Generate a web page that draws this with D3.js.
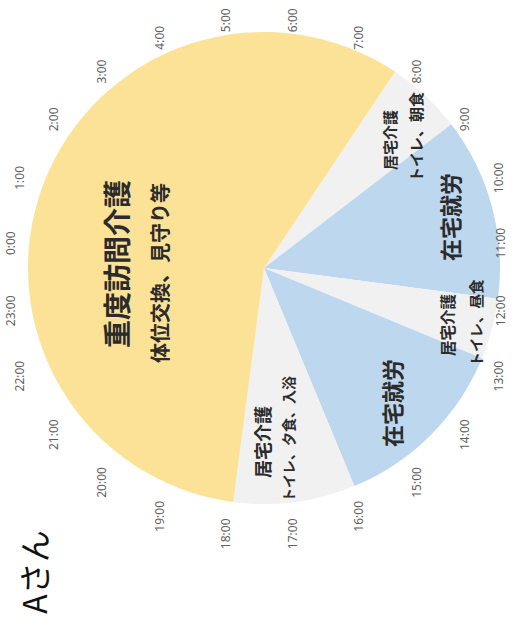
<!DOCTYPE html>
<html>
<head>
<meta charset="utf-8">
<script src="https://cdn.jsdelivr.net/npm/d3@7"></script>
<style>
  body { margin: 0; background: #fff; }
  svg { display: block; }
</style>
</head>
<body>
<svg id="chart" width="526" height="626"></svg>
<script>
// one day of care, slices in clock order starting at 7:45
const segNames = ["居宅介護", "在宅就労", "居宅介護", "在宅就労", "居宅介護", "重度訪問介護"];
const segNotes = ["トイレ、朝食", "", "トイレ、昼食", "", "トイレ、夕食、入浴", "体位交換、見守り等"];
const segHours = [1.25, 3, 1, 3, 2, 13.75];
const dayStart = 7.75;
const hourTicks = d3.range(24).map(h => h + ":00");
const title = "Aさん";

const colors = { "居宅介護": "#f1f1f1", "在宅就労": "#bdd7ee", "重度訪問介護": "#fbe296" };

// label spots inside the (upright) pie, same order as the slices
const labelLayout = [
  { name: [128, 125, 15], note: [131, 151, 15] },
  { name: [51, 185, 22] },
  { name: [-57, 183, 15.5], note: [-55, 211, 14.5] },
  { name: [-135, 127, 22] },
  { name: [-174, -2, 18], note: [-171, 24, 14] },
  { name: [4, -148, 28], note: [-5, -105, 20] }
];

const cx = 264, cy = 268, R = 236;
const tilt = 7.5 * Math.PI / 180;          // 0:00 sits a little past the top
const toAngle = h => tilt + h / 24 * 2 * Math.PI;

const svg = d3.select("#chart");
// the sheet is drawn upright then turned a quarter to the left
const g = svg.append("g").attr("transform", `translate(${cx},${cy}) rotate(-90)`);

const pie = d3.pie().sort(null).value(d => d)
  .startAngle(toAngle(dayStart))
  .endAngle(toAngle(dayStart) + 2 * Math.PI);
const arc = d3.arc().innerRadius(0).outerRadius(R);

g.selectAll("path.slice")
  .data(pie(segHours))
  .enter().append("path")
  .attr("class", "slice")
  .attr("d", arc)
  .attr("fill", (d, i) => colors[segNames[i]]);

// hour labels around the clock
const ring = { x: -9, y: -5, r: 259 };
g.selectAll("text.hour")
  .data(hourTicks)
  .enter().append("text")
  .attr("class", "hour")
  .attr("x", (d, i) => ring.x + ring.r * Math.sin(toAngle(i)))
  .attr("y", (d, i) => {
    let y = ring.y - ring.r * Math.cos(toAngle(i));
    return Math.max(-254, Math.min(236, y));   // kept inside the sheet
  })
  .attr("text-anchor", "middle")
  .attr("dominant-baseline", "central")
  .attr("font-family", "'Noto Sans', 'Noto Sans CJK JP', sans-serif")
  .attr("font-size", 12)
  .attr("fill", "#5f5f5f")
  .text(d => d);

// slice texts
labelLayout.forEach((lay, i) => {
  const lines = [[segNames[i], lay.name]];
  if (lay.note) lines.push([segNotes[i], lay.note]);
  lines.forEach(([txt, p]) => {
    g.append("text")
      .attr("x", p[0]).attr("y", p[1])
      .attr("text-anchor", "middle")
      .attr("dominant-baseline", "central")
      .attr("font-family", "'Noto Sans CJK JP', sans-serif")
      .attr("font-weight", 700)
      .attr("font-size", p[2])
      .attr("fill", "#2b2b2b")
      .text(txt);
  });
});

g.append("text")
  .attr("x", -304).attr("y", -231)
  .attr("text-anchor", "middle")
  .attr("dominant-baseline", "central")
  .attr("font-family", "'Noto Sans CJK JP', sans-serif")
  .attr("font-size", 32)
  .attr("fill", "#111")
  .text(title);
</script>
</body>
</html>
